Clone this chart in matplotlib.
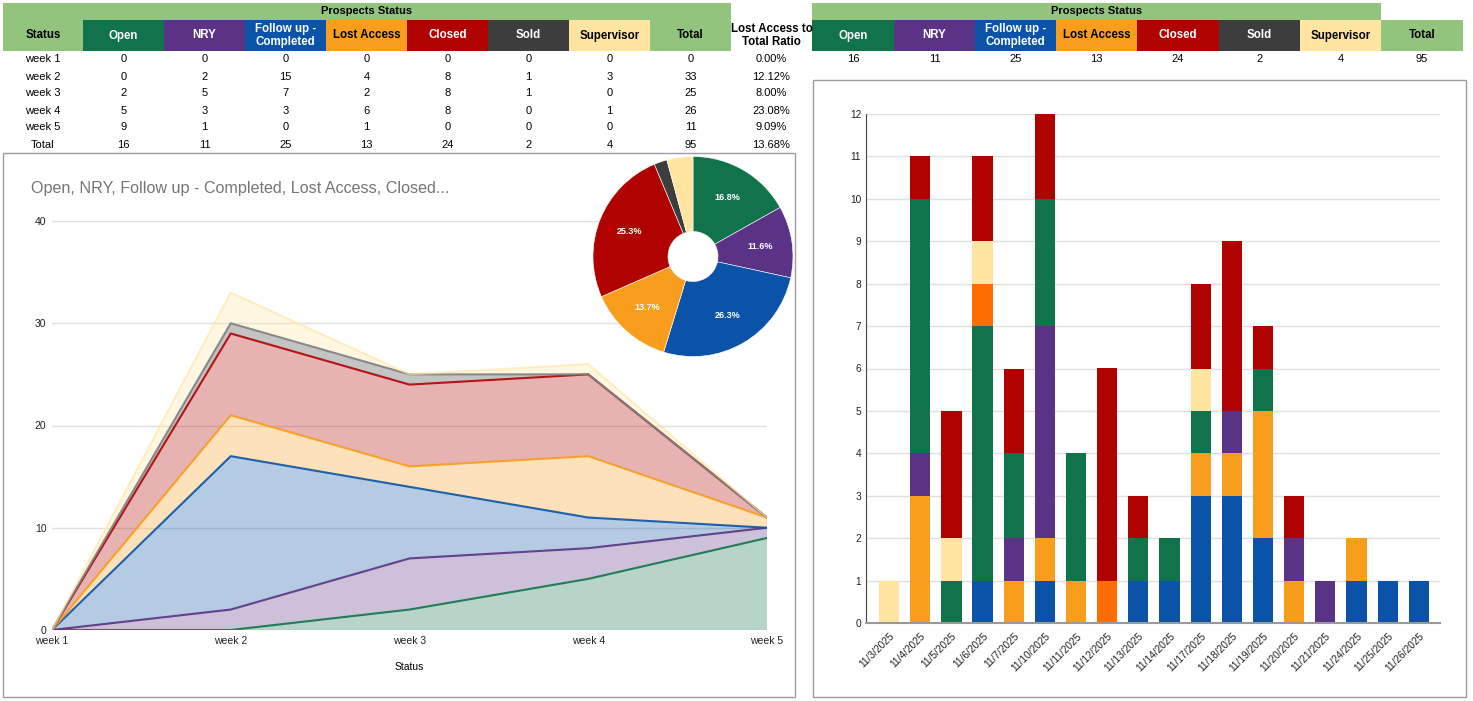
import numpy as np
import matplotlib.pyplot as plt
from matplotlib.patches import Rectangle

plt.rcParams['font.family'] = ['Liberation Sans', 'DejaVu Sans']

W, H = 1473, 701

# status columns and colours
statuses = ["Open", "NRY", "Follow up -\nCompleted", "Lost Access", "Closed", "Sold", "Supervisor"]
status_names = ["Open", "NRY", "Follow up - Completed", "Lost Access", "Closed", "Sold", "Supervisor"]
status_colors = ["#11734b", "#5a3286", "#0a53a8", "#f99d1c", "#b10202", "#3d3d3d", "#ffe5a0"]
header_text = ["white", "white", "white", "black", "white", "white", "black"]
green_hdr = "#93c47d"

# weekly table
weeks = ["week 1", "week 2", "week 3", "week 4", "week 5"]
open_w = [0, 0, 2, 5, 9]
nry_w = [0, 2, 5, 3, 1]
follow_w = [0, 15, 7, 3, 0]
lost_w = [0, 4, 2, 6, 1]
closed_w = [0, 8, 8, 8, 0]
sold_w = [0, 1, 1, 0, 0]
super_w = [0, 3, 0, 1, 0]

# daily stacked bars (bottom -> top)
dates = ["11/3/2025", "11/4/2025", "11/5/2025", "11/6/2025", "11/7/2025", "11/10/2025",
         "11/11/2025", "11/12/2025", "11/13/2025", "11/14/2025", "11/17/2025", "11/18/2025",
         "11/19/2025", "11/20/2025", "11/21/2025", "11/24/2025", "11/25/2025", "11/26/2025"]
bar_follow = [0, 0, 0, 1, 0, 1, 0, 0, 1, 1, 3, 3, 2, 0, 0, 1, 1, 1]
bar_lost = [0, 3, 0, 0, 1, 1, 1, 0, 0, 0, 1, 1, 3, 1, 0, 1, 0, 0]
bar_nry = [0, 1, 0, 0, 1, 5, 0, 0, 0, 0, 0, 1, 0, 1, 1, 0, 0, 0]
bar_open = [0, 6, 1, 6, 2, 3, 3, 0, 1, 1, 1, 0, 1, 0, 0, 0, 0, 0]
bar_other = [0, 0, 0, 1, 0, 0, 0, 1, 0, 0, 0, 0, 0, 0, 0, 0, 0, 0]
bar_super = [1, 0, 1, 1, 0, 0, 0, 0, 0, 0, 1, 0, 0, 0, 0, 0, 0, 0]
bar_closed = [0, 1, 3, 2, 2, 2, 0, 5, 1, 0, 2, 4, 1, 1, 0, 0, 0, 0]

weekly = [open_w, nry_w, follow_w, lost_w, closed_w, sold_w, super_w]
week_tot = [sum(v) for v in zip(*weekly)]
col_tot = [sum(s) for s in weekly]
grand = sum(col_tot)


def px(x0, y0, x1, y1):
    return [x0 / W, 1 - y1 / H, (x1 - x0) / W, (y1 - y0) / H]


fig = plt.figure(figsize=(W / 100, H / 100), dpi=100)
bg = fig.add_axes([0, 0, 1, 1])
bg.set_xlim(0, W)
bg.set_ylim(H, 0)
bg.axis('off')


def cell(x0, x1, y0, y1, fc, txt="", tc="black", bold=False, size=8):
    if fc is not None:
        bg.add_patch(Rectangle((x0, y0), x1 - x0, y1 - y0, facecolor=fc, edgecolor='none'))
    if txt:
        bg.text((x0 + x1) / 2, (y0 + y1) / 2, txt, ha='center', va='center', color=tc,
                fontsize=size, fontweight='bold' if bold else 'normal', linespacing=1.1)


# ---- table 1 ----
c1 = [3, 83, 164, 245, 326, 407, 488, 569, 650, 731, 812]
cell(c1[0], c1[9], 3, 20, green_hdr, "Prospects Status", bold=True)
cell(c1[0], c1[1], 20, 51, green_hdr, "Status", bold=True, size=8.3)
for i, s in enumerate(statuses):
    cell(c1[i + 1], c1[i + 2], 20, 51, status_colors[i], s, header_text[i], True, 8.3)
cell(c1[8], c1[9], 20, 51, green_hdr, "Total", bold=True, size=8.3)
cell(c1[9], c1[10], 20, 51, None, "Lost Access to\nTotal Ratio", bold=True, size=8.3)
for r in range(6):
    y0 = 51 + 17 * r
    if r < 5:
        vals = [weeks[r]] + [str(s[r]) for s in weekly] + [str(week_tot[r])]
        ratio = lost_w[r] / week_tot[r] * 100 if week_tot[r] else 0
    else:
        vals = ["Total"] + [str(v) for v in col_tot] + [str(grand)]
        ratio = sum(lost_w) / grand * 100
    vals.append(f"{ratio:.2f}%")
    for j, v in enumerate(vals):
        cell(c1[j], c1[j + 1], y0, y0 + 17, None, v)

# ---- table 2 ----
c2 = [812, 894, 975, 1056, 1137, 1219, 1300, 1381, 1463]
cell(c2[0], c2[7], 3, 20, green_hdr, "Prospects Status", bold=True)
for i, s in enumerate(statuses):
    cell(c2[i], c2[i + 1], 20, 51, status_colors[i], s, header_text[i], True, 8.3)
cell(c2[7], c2[8], 20, 51, green_hdr, "Total", bold=True, size=8.3)
for j, v in enumerate(col_tot + [grand]):
    cell(c2[j], c2[j + 1], 51, 68, None, str(v))

# chart frames
bg.add_patch(Rectangle((3, 153), 792, 544, facecolor='none', edgecolor='#9e9e9e', lw=1))
bg.add_patch(Rectangle((813, 80), 653, 617, facecolor='none', edgecolor='#9e9e9e', lw=1))

# ---- stacked area chart ----
ax = fig.add_axes(px(52, 221, 767, 630))
x = np.arange(len(weeks))
fills = [np.array(s) for s in weekly]
ax.stackplot(x, *fills, colors=status_colors, alpha=0.3, linewidth=0)
cum = np.cumsum(fills, axis=0)
for k in range(len(weekly)):
    lc = status_colors[k] if k != 5 else "#808080"
    ax.plot(x, cum[k], color=lc, lw=1.5, alpha=0.9 if k != 6 else 0.6)
ax.set_xlim(0, 4)
ax.set_ylim(0, 40)
ax.set_yticks([0, 10, 20, 30, 40])
ax.set_xticks(x)
ax.set_xticklabels(weeks)
ax.grid(axis='y', color='#e0e0e0', lw=1)
ax.set_axisbelow(True)
for sp in ax.spines.values():
    sp.set_visible(False)
ax.tick_params(length=0, labelsize=7.5, colors='#222222', pad=4)
ax.set_xlabel("Status", fontsize=7.5, labelpad=12)
bg.text(31, 189, "Open, NRY, Follow up - Completed, Lost Access, Closed...", fontsize=11.6,
        color='#757575', va='center', ha='left')

# ---- donut ----
pax = fig.add_axes(px(592, 155, 794, 358))
pax.set_facecolor('white')


def pct_label(p):
    return f"{p:.1f}%" if p > 8 else ""


_, _, autotexts = pax.pie(col_tot, colors=status_colors, startangle=90, counterclock=False,
                          radius=1, autopct=pct_label, pctdistance=0.68,
                          wedgeprops=dict(width=0.75, edgecolor='white', linewidth=0.4))
for t in autotexts:
    t.set_color('white')
    t.set_fontsize(6.5)
    t.set_fontweight('bold')
pax.set_xlim(-1.01, 1.01)
pax.set_ylim(-1.01, 1.01)
pax.set_xticks([])
pax.set_yticks([])
for sp in pax.spines.values():
    sp.set_color('#9e9e9e')

# ---- stacked bars ----
bax = fig.add_axes(px(866, 114, 1440, 623))
bars = [bar_follow, bar_lost, bar_nry, bar_open, bar_other, bar_super, bar_closed]
bar_colors = ["#0a53a8", "#f99d1c", "#5a3286", "#11734b", "#ff6d01", "#ffe5a0", "#b10202"]
xb = np.arange(len(dates))
bottom = np.zeros(len(dates))
for vals, col in zip(bars, bar_colors):
    vals = np.array(vals)
    bax.bar(xb, vals, bottom=bottom, width=0.65, color=col, linewidth=0)
    bottom += vals
bax.set_xlim(-0.74, 17.68)
bax.set_ylim(0, 12)
bax.set_yticks(range(13))
bax.set_xticks(xb)
bax.set_xticklabels(dates, rotation=45, ha='right', rotation_mode='anchor')
bax.grid(axis='y', color='#e0e0e0', lw=1)
bax.set_axisbelow(True)
bax.spines['top'].set_visible(False)
bax.spines['right'].set_visible(False)
bax.spines['left'].set_color('#444444')
bax.spines['left'].set_linewidth(0.8)
bax.spines['bottom'].set_color('#999999')
bax.spines['bottom'].set_linewidth(1.5)
bax.tick_params(length=0, labelsize=7.3, colors='#222222')
bax.tick_params(axis='x', pad=6)

fig.savefig("out.png", dpi=100)
